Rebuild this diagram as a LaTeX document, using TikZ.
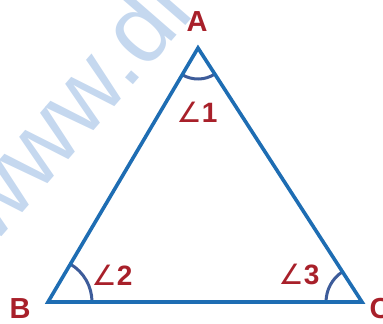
\documentclass[tikz,border=0pt]{standalone}
\usepackage{fontspec}
\setmainfont{Liberation Sans}
\newfontfamily\symfont{DejaVu Sans}
\usetikzlibrary{calc}
\definecolor{triblue}{HTML}{1E6DB3}
\definecolor{arcblue}{HTML}{3D5C9A}
\definecolor{lblred}{HTML}{A8202A}
\definecolor{wmblue}{HTML}{C5D8EF}
\tikzset{
  side/.style={draw=triblue, line width=3.6pt, line join=miter},
  anglearc/.style={draw=arcblue, line width=3pt},
  vlabel/.style={text=lblred, font=\fontsize{29}{30}\selectfont\bfseries, inner sep=0pt},
  alabel/.style={text=lblred, font=\fontsize{28}{30}\selectfont\bfseries, inner sep=0pt},
}
\begin{document}
\begin{tikzpicture}[x=1pt,y=-1pt]
\useasboundingbox (0,0) rectangle (383,324);
\clip (0,0) rectangle (383,324);
% watermark
\node[text=wmblue, font=\fontsize{98}{100}\selectfont, rotate=49, anchor=base west, inner sep=0pt] (wm) at (-8,248) {www.di};
% vertices
\coordinate (A) at (198,48);
\coordinate (B) at (48,302);
\coordinate (C) at (362,302);
% angle arcs
\draw[anglearc] ($(A)!31pt!(B)$) arc[start angle=239.4, end angle=302.9, radius=31pt];
\draw[anglearc] ($(B)!44pt!(C)$) arc[start angle=0, end angle=59.4, radius=44pt];
\draw[anglearc] ($(C)!36pt!(A)$) arc[start angle=122.9, end angle=180, radius=36pt];
% triangle
\draw[side] (A) -- (B) -- (C) -- cycle;
% labels
\node[vlabel] (lA) at (197,22) {A};
\node[vlabel] (lB) at (20,309) {B};
\node[vlabel] (lC) at (380,309) {C};
\node[alabel] (a1) at (197,112) {{\symfont\mdseries ∠}1};
\node[alabel] (a2) at (112,275) {{\symfont\mdseries ∠}2};
\node[alabel] (a3) at (299,274) {{\symfont\mdseries ∠}3};
\end{tikzpicture}
\end{document}
